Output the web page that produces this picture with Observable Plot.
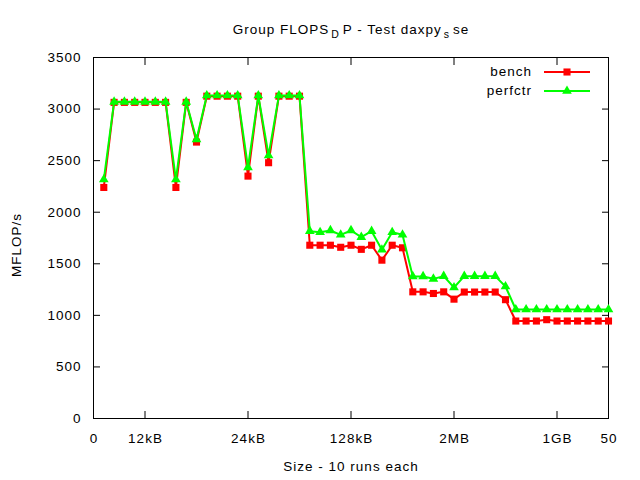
<!DOCTYPE html>
<html>
<head>
<meta charset="utf-8">
<script src="https://cdn.jsdelivr.net/npm/d3@7"></script>
<script src="https://cdn.jsdelivr.net/npm/@observablehq/plot@0.6"></script>
<style>
  body { margin: 0; background: #fff; }
  #chart svg { display: block; }
</style>
</head>
<body>
<div id="chart"></div>
<script>
// ---- data ----
const runIndex = [1,2,3,4,5,6,7,8,9,10,11,12,13,14,15,16,17,18,19,20,21,22,23,24,25,26,27,28,29,30,31,32,33,34,35,36,37,38,39,40,41,42,43,44,45,46,47,48,49,50];
const bench = [2240,3065,3065,3065,3065,3065,3065,2240,3065,2680,3125,3125,3125,3125,2350,3125,2480,3125,3125,3125,
               1680,1680,1680,1660,1680,1640,1680,1535,1680,1655,1228,1228,1212,1228,1157,1226,1226,1226,1226,1152,
               945,945,945,958,945,945,945,945,945,945];
const perfctr = [2317,3070,3070,3070,3070,3070,3070,2317,3070,2705,3131,3131,3131,3131,2434,3131,2550,3131,3131,3131,
                 1816,1806,1823,1781,1823,1758,1816,1636,1806,1781,1377,1377,1354,1380,1270,1380,1380,1380,1380,1280,
                 1057,1057,1057,1057,1057,1057,1057,1057,1057,1057];
const xTickValues = [0,5,15,25,35,45,50];
const xTickLabels = ["0","12kB","24kB","128kB","2MB","1GB","50"];
const yTickValues = [0,500,1000,1500,2000,2500,3000,3500];
const seriesNames = ["bench","perfctr"];
const seriesColors = ["#ff0000","#00ff00"];
const seriesSymbols = ["square","triangle"];
const titleParts = [["Group FLOPS",0],["D",1],["P - Test daxpy",0],["s",1],["se",0]];
const xLabel = "Size - 10 runs each";
const yLabel = "MFLOP/s";

const benchData = runIndex.map((x,i) => ({x, y: bench[i]}));
const perfData = runIndex.map((x,i) => ({x, y: perfctr[i]}));

const FONT = "'Liberation Sans', Arial, Helvetica, sans-serif";
const FS = 13.5, LS = 1;
const mL = 93, mR = 32, mT = 57, mB = 62, W = 640, H = 480;

const labelMap = new Map(xTickValues.map((v,i)=>[v, xTickLabels[i]]));

const chart = Plot.plot({
  width: W, height: H,
  marginLeft: mL, marginRight: mR, marginTop: mT, marginBottom: mB,
  style: {fontFamily: FONT, fontSize: FS + "px", background: "#fff", color: "#000", letterSpacing: LS + "px", overflow: "visible"},
  x: {domain: [0, 50]},
  y: {domain: [0, 3500]},
  marks: [
    // labels
    Plot.axisX({ticks: xTickValues, tickSize: 0, tickPadding: 15.4, dx: LS/2, tickFormat: d => labelMap.get(d), label: null, fill: "#000"}),
    Plot.axisY({ticks: yTickValues, tickSize: 0, tickPadding: 12, tickFormat: d => String(d), label: null, fill: "#000"}),
    // inward ticks (mirrored)
    Plot.axisX({ticks: xTickValues, tickSize: 7, dy: -7, text: null, label: null, stroke: "#000"}),
    Plot.axisX({anchor: "top", ticks: xTickValues, tickSize: 7, dy: 7, text: null, label: null, stroke: "#000"}),
    Plot.axisY({ticks: yTickValues, tickSize: 7, dx: 7, text: null, label: null, stroke: "#000"}),
    Plot.axisY({anchor: "right", ticks: yTickValues, tickSize: 7, dx: -7, text: null, label: null, stroke: "#000"}),
    Plot.frame({stroke: "#000", strokeWidth: 1}),
    // bench
    Plot.line(benchData, {x: "x", y: "y", stroke: seriesColors[0], strokeWidth: 2}),
    Plot.dot(benchData, {x: "x", y: "y", symbol: seriesSymbols[0], fill: seriesColors[0], r: 4}),
    // perfctr
    Plot.line(perfData, {x: "x", y: "y", stroke: seriesColors[1], strokeWidth: 2}),
    Plot.dot(perfData, {x: "x", y: "y", symbol: seriesSymbols[1], fill: seriesColors[1], r: 3.6})
  ]
});

document.getElementById("chart").appendChild(chart);

const svg = d3.select(chart);
const cx = mL + (W - mL - mR) / 2;

// title with subscripts
const t = svg.append("text")
  .attr("x", cx + LS/2).attr("y", 34)
  .attr("text-anchor", "middle")
  .attr("font-family", FONT).attr("font-size", FS).attr("fill", "#000");
let prevSub = 0;
titleParts.forEach(([txt, sub]) => {
  const ts = t.append("tspan").text(txt);
  if (sub) ts.attr("font-size", 10.5).attr("dy", 4).attr("dx", 2);
  else if (prevSub) ts.attr("dy", -4).attr("dx", 3);
  prevSub = sub;
});

// axis labels
svg.append("text")
  .attr("x", cx + LS/2).attr("y", 471)
  .attr("text-anchor", "middle")
  .attr("font-family", FONT).attr("font-size", FS).attr("fill", "#000")
  .text(xLabel);
svg.append("text")
  .attr("transform", `translate(21,${245}) rotate(-90)`)
  .attr("text-anchor", "middle")
  .attr("font-family", FONT).attr("font-size", FS).attr("fill", "#000")
  .text(yLabel);

// legend
const legendRows = [72, 91];
seriesNames.forEach((name, i) => {
  const yy = legendRows[i];
  const g = svg.append("g");
  g.append("text")
    .attr("x", 531 + LS).attr("y", yy + 4)
    .attr("text-anchor", "end")
    .attr("font-family", FONT).attr("font-size", FS).attr("fill", "#000")
    .text(name);
  g.append("line")
    .attr("x1", 544).attr("x2", 590).attr("y1", yy).attr("y2", yy)
    .attr("stroke", seriesColors[i]).attr("stroke-width", 2);
  const sym = i === 0 ? d3.symbolSquare : d3.symbolTriangle;
  const r = i === 0 ? 4 : 3.6;
  g.append("path")
    .attr("transform", `translate(567,${yy})`)
    .attr("d", d3.symbol(sym, Math.PI * r * r)())
    .attr("fill", seriesColors[i]);
});
</script>
</body>
</html>
